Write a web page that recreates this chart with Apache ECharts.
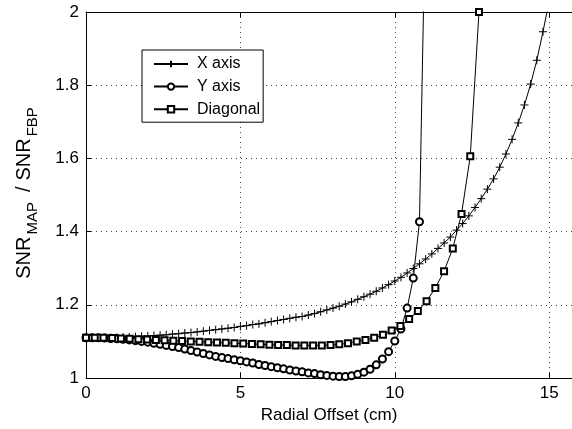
<!DOCTYPE html>
<html>
<head>
<meta charset="utf-8">
<script src="https://cdn.jsdelivr.net/npm/echarts@6/dist/echarts.min.js"></script>
<style>html,body{margin:0;padding:0;background:#fff}#c{width:572px;height:429px}</style>
</head>
<body>
<div id="c"></div>
<script>
// X axis series: sampled every 0.2 cm from 0 to 15
const xAxisStep = 0.2;
const xAxisValues = [
  1.110,1.110,1.110,1.110,1.111,1.111,1.112,1.112,1.113,1.114,
  1.115,1.116,1.117,1.118,1.120,1.121,1.123,1.124,1.126,1.128,
  1.130,1.132,1.134,1.136,1.138,1.141,1.143,1.146,1.148,1.151,
  1.154,1.157,1.160,1.163,1.166,1.168,1.172,1.176,1.181,1.186,
  1.191,1.196,1.202,1.208,1.215,1.222,1.229,1.237,1.246,1.255,
  1.265,1.275,1.287,1.299,1.312,1.325,1.339,1.354,1.369,1.385,
  1.404,1.422,1.443,1.466,1.490,1.516,1.544,1.576,1.612,1.652,
  1.697,1.746,1.803,1.868,1.946,2.030
];
// Y axis series: sampled every 0.2 cm from 0 to 11
const yAxisStep = 0.2;
const yAxisValues = [
  1.110,1.110,1.110,1.109,1.108,1.107,1.106,1.104,1.102,1.100,
  1.098,1.095,1.092,1.089,1.086,1.083,1.079,1.075,1.071,1.067,
  1.063,1.059,1.056,1.053,1.050,1.047,1.044,1.041,1.037,1.034,
  1.031,1.028,1.025,1.022,1.019,1.017,1.014,1.012,1.009,1.007,
  1.005,1.004,1.004,1.006,1.010,1.016,1.024,1.036,1.052,1.072,
  1.101,1.134,1.191,1.273,1.427,2.320
];
// Diagonal series: sampled every 0.2*sqrt(2) cm
const diagStep = 0.2 * Math.SQRT2;
const diagValues = [
  1.110,1.110,1.110,1.109,1.108,1.107,1.106,1.105,1.104,1.103,
  1.102,1.101,1.100,1.099,1.098,1.097,1.096,1.095,1.094,1.093,
  1.092,1.091,1.090,1.090,1.089,1.089,1.089,1.089,1.090,1.092,
  1.095,1.100,1.104,1.110,1.118,1.130,1.142,1.161,1.183,1.210,
  1.246,1.292,1.354,1.448,1.606,2.000
];
const seriesNames = ['X axis', 'Y axis', 'Diagonal'];
const xTicks = [0, 5, 10, 15];
const yTicks = [1, 1.2, 1.4, 1.6, 1.8, 2];
const xMax = 15.74; // the original frame is cut off by the right image edge

function pairs(step, vals) { return vals.map((v, i) => [+(i * step).toFixed(4), v]); }

const FONT = 'Liberation Sans';
const plusPath = 'path://M0,5L10,5M5,0L5,10';
const chart = echarts.init(document.getElementById('c'), null, {renderer: 'canvas'});
const gridLine = {show: true, showMaxLine: false, lineStyle: {color: '#444', type: [1, 4], width: 1}};
function mkSeries(name, data, symbol, size) {
  return {
    name, type: 'line', data, symbol, symbolSize: size, showSymbol: true,
    lineStyle: {color: '#000', width: 1},
    itemStyle: {color: '#000', borderColor: '#000', borderWidth: 1},
    emphasis: {disabled: true}, clip: true, z: 3
  };
}
chart.setOption({
  animation: false,
  backgroundColor: '#fff',
  textStyle: {fontFamily: FONT},
  grid: {left: 86, right: 0, top: 12, bottom: 51, containLabel: false},
  xAxis: [{
    type: 'value', min: 0, max: xMax, interval: 5,
    axisLine: {show: true, lineStyle: {color: '#000', width: 1}},
    axisTick: {show: true, inside: true, length: 5, lineStyle: {color: '#000'}},
    axisLabel: {color: '#000', fontSize: 17, margin: 7, fontFamily: FONT, showMaxLabel: false,
      formatter: v => xTicks.includes(v) ? String(v) : ''},
    splitLine: gridLine,
    name: 'Radial Offset (cm)', nameLocation: 'middle', nameGap: 27,
    nameTextStyle: {color: '#000', fontSize: 17, fontFamily: FONT}
  }, {
    type: 'value', position: 'top', min: 0, max: xMax, interval: 5,
    axisLine: {show: true, onZero: false, lineStyle: {color: '#000', width: 1}},
    axisTick: {show: true, inside: true, length: 5, lineStyle: {color: '#000'}},
    axisLabel: {show: false}, splitLine: {show: false}
  }],
  yAxis: [{
    type: 'value', min: 1, max: 2, interval: 0.2,
    axisLine: {show: true, lineStyle: {color: '#000', width: 1}},
    axisTick: {show: true, inside: true, length: 5, lineStyle: {color: '#000'}},
    axisLabel: {color: '#000', fontSize: 17, margin: 7, fontFamily: FONT,
      formatter: v => { const t = yTicks.find(k => Math.abs(k - v) < 1e-6); return t === undefined ? '' : String(t); }},
    splitLine: {show: true, lineStyle: {color: '#444', type: [1, 4], width: 1}},
    name: '{m|SNR}{s|MAP}{g|/}{m|SNR}{s|FBP}', nameLocation: 'middle', nameGap: 52, nameRotate: 90,
    nameTextStyle: {
      color: '#000', fontFamily: FONT, padding: [0, 0, 0, 8],
      rich: {
        m: {fontSize: 20, fontFamily: FONT, color: '#000', verticalAlign: 'bottom', lineHeight: 26},
        g: {fontSize: 20, fontFamily: FONT, color: '#000', verticalAlign: 'bottom', lineHeight: 26, padding: [0, 6, 0, 6]},
        s: {fontSize: 15, fontFamily: FONT, color: '#000', verticalAlign: 'bottom', lineHeight: 26, padding: [0, 4, -6, 2]}
      }
    }
  }],
  legend: {
    show: true, orient: 'vertical', left: 142, top: 50,
    data: seriesNames,
    backgroundColor: '#fff', borderColor: '#000', borderWidth: 1,
    padding: [5, 3, 4, 11], itemGap: 4.6, itemWidth: 34, itemHeight: 8,
    textStyle: {color: '#000', fontSize: 16, lineHeight: 18, fontFamily: FONT, padding: [0, 0, 0, 4]},
    selectedMode: false
  },
  series: [
    mkSeries(seriesNames[0], pairs(xAxisStep, xAxisValues), plusPath, 8),
    mkSeries(seriesNames[1], pairs(yAxisStep, yAxisValues), 'emptyCircle', 7),
    mkSeries(seriesNames[2], pairs(diagStep, diagValues), 'emptyRect', 6)
  ]
});
</script>
</body>
</html>
